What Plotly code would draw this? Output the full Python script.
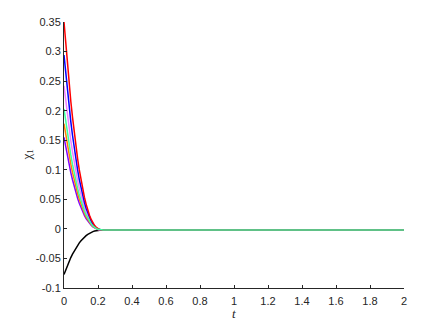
import plotly.graph_objects as go

t = [0, 0.01, 0.02, 0.03, 0.04, 0.05, 0.06, 0.07, 0.08, 0.09, 0.10, 0.11, 0.12,
     0.13, 0.14, 0.15, 0.16, 0.17, 0.18, 0.19, 0.20, 0.21, 0.22, 0.23, 0.3, 2.0]

red = [0.350, 0.313, 0.278, 0.246, 0.216, 0.189, 0.163, 0.140, 0.119, 0.0997, 0.0825,
       0.0672, 0.0537, 0.0419, 0.0317, 0.0231, 0.0160, 0.0103, 0.0057, 0.0024, 0.0001,
       -0.0012, -0.0019, -0.002, -0.002, -0.002]
blue = [0.294, 0.2629, 0.2338, 0.2067, 0.1815, 0.1584, 0.1371, 0.1176, 0.0997, 0.0835,
        0.0690, 0.0562, 0.0448, 0.0349, 0.0264, 0.0191, 0.0131, 0.0083, 0.0045, 0.0017,
        -0.0002, -0.0013, -0.0019, -0.002, -0.002, -0.002]
magenta = [0.242, 0.2164, 0.1923, 0.1700, 0.1493, 0.1302, 0.1127, 0.0966, 0.0818, 0.0685,
           0.0566, 0.0460, 0.0366, 0.0284, 0.0214, 0.0154, 0.0105, 0.0065, 0.0034, 0.0011,
           -0.0005, -0.0015, -0.0019, -0.002, -0.002, -0.002]
green = [0.203, 0.1815, 0.1613, 0.1425, 0.1251, 0.1091, 0.0944, 0.0808, 0.0684, 0.0572,
         0.0472, 0.0383, 0.0304, 0.0236, 0.0176, 0.0126, 0.0085, 0.0051, 0.0025, 0.0006,
         -0.0008, -0.0016, -0.0019, -0.002, -0.002, -0.002]
orange = [0.178, 0.1591, 0.1414, 0.1249, 0.1096, 0.0956, 0.0826, 0.0707, 0.0598, 0.0500,
          0.0412, 0.0334, 0.0265, 0.0204, 0.0152, 0.0108, 0.0072, 0.0043, 0.0020, 0.0003,
          -0.0009, -0.0016, -0.0019, -0.002, -0.002, -0.002]
purple = [0.155, 0.1385, 0.1231, 0.1087, 0.0953, 0.0831, 0.0718, 0.0614, 0.0519, 0.0434,
          0.0357, 0.0289, 0.0228, 0.0176, 0.0130, 0.0092, 0.0060, 0.0035, 0.0015, 0.0000,
          -0.0010, -0.0017, -0.0019, -0.002, -0.002, -0.002]
black = [-0.077, -0.0691, -0.0617, -0.0549, -0.0485, -0.0427, -0.0373, -0.0323, -0.0278,
         -0.0237, -0.0200, -0.0167, -0.0139, -0.0114, -0.0092, -0.0073, -0.0058, -0.0046,
         -0.0037, -0.0029, -0.0025, -0.0022, -0.0020, -0.002, -0.002, -0.002]

x_ticks = [0, 0.2, 0.4, 0.6, 0.8, 1, 1.2, 1.4, 1.6, 1.8, 2]
x_labels = ["0", "0.2", "0.4", "0.6", "0.8", "1", "1.2", "1.4", "1.6", "1.8", "2"]
y_ticks = [-0.1, -0.05, 0, 0.05, 0.1, 0.15, 0.2, 0.25, 0.3, 0.35]
y_labels = ["-0.1", "-0.05", "0", "0.05", "0.1", "0.15", "0.2", "0.25", "0.3", "0.35"]

series = [
    (black, "#000000"),
    (purple, "#8000ff"),
    (orange, "#ff8000"),
    (magenta, "#f080ff"),
    (blue, "#0000ff"),
    (red, "#ff0000"),
    (green, "#3dffa0"),
]

fig = go.Figure()
for ys, col in series:
    fig.add_trace(go.Scatter(x=t, y=ys, mode="lines",
                             line=dict(color=col, width=1.5), showlegend=False,
                             hoverinfo="skip"))

axis_common = dict(showline=True, linecolor="#262626", linewidth=1, ticks="inside",
                   ticklen=3, tickcolor="#262626", showgrid=False, zeroline=False,
                   mirror=False, tickfont=dict(family="Liberation Sans, Arial", size=11,
                                               color="#262626"))

fig.update_layout(
    width=433, height=322,
    margin=dict(l=64, r=29, t=22, b=34),
    paper_bgcolor="white", plot_bgcolor="white",
    xaxis=dict(range=[0, 2], tickvals=x_ticks, ticktext=x_labels,
               ticklabelstandoff=3, **axis_common),
    yaxis=dict(range=[-0.1, 0.35], tickvals=y_ticks, ticktext=y_labels, **axis_common),
    annotations=[
        dict(text="<i>t</i>", xref="paper", yref="paper", x=0.5, y=-0.094,
             xanchor="center", yanchor="middle", showarrow=False,
             font=dict(family="Liberation Serif, Times New Roman", size=13, color="#262626")),
        dict(text="χ<sub>1</sub>", xref="paper", yref="paper", x=-0.11, y=0.5,
             xanchor="center", yanchor="middle", showarrow=False, textangle=-90,
             font=dict(family="Liberation Serif, Times New Roman", size=13, color="#262626")),
    ],
)

fig.write_html("out.html", config={"displayModeBar": False},
               post_script="document.body.style.margin='0';document.body.style.overflow='hidden';")
